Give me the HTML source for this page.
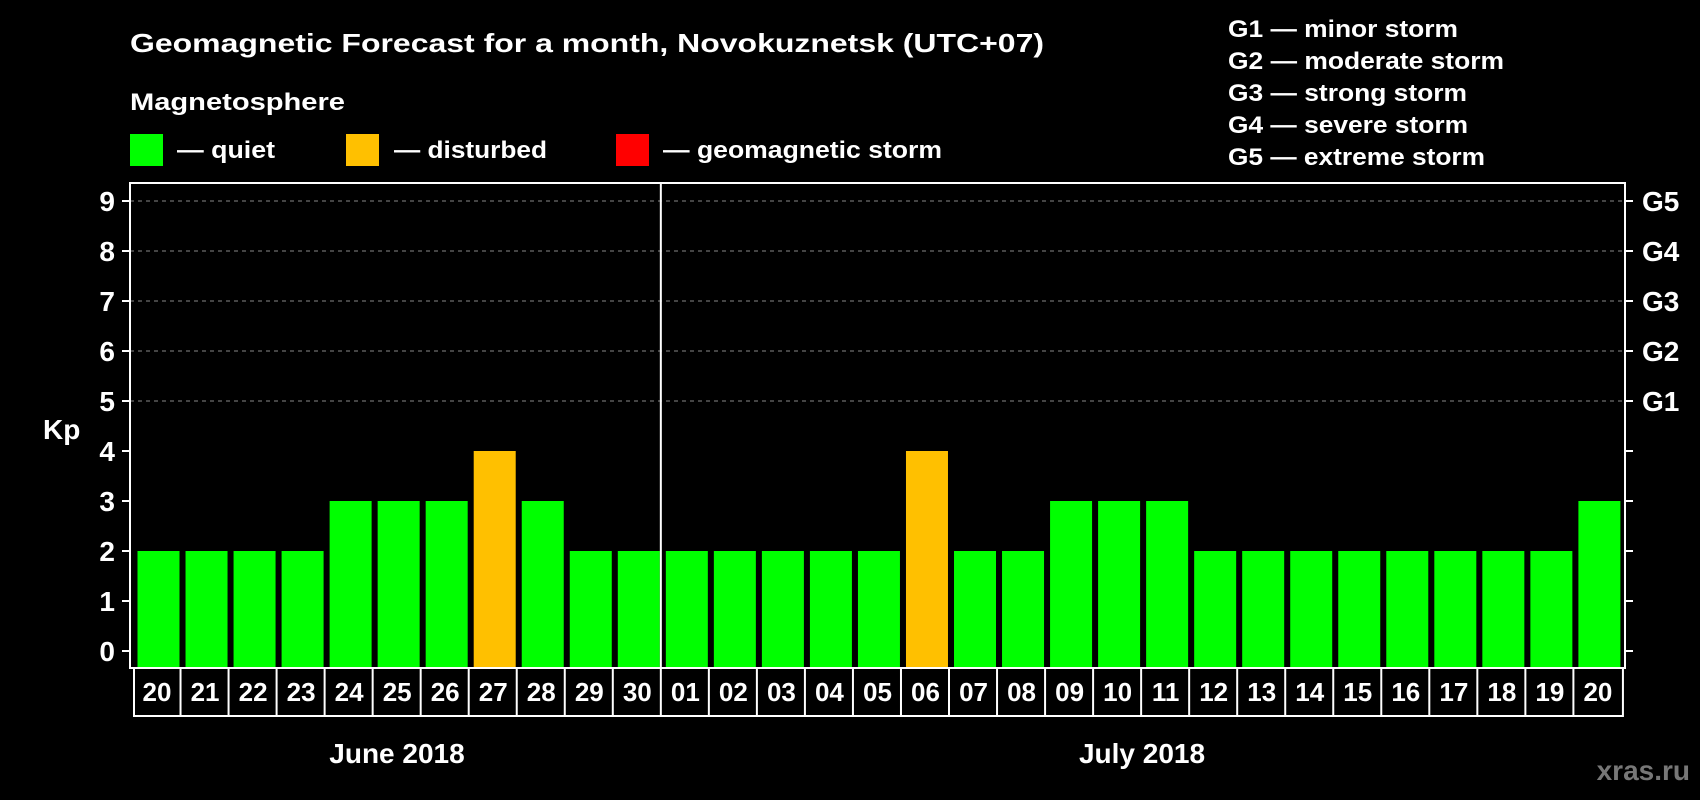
<!DOCTYPE html>
<html><head><meta charset="utf-8"><style>
html,body{margin:0;padding:0;background:#000;}
svg{display:block;font-family:"Liberation Sans",Arial,sans-serif;font-weight:bold;}
</style></head><body>
<svg id="chart" width="1700" height="800" viewBox="0 0 1700 800" xmlns="http://www.w3.org/2000/svg">
<rect x="0" y="0" width="1700" height="800" fill="#000"/>
<text x="130" y="52" fill="#fff" font-size="26" textLength="914" lengthAdjust="spacingAndGlyphs">Geomagnetic Forecast for a month, Novokuznetsk (UTC+07)</text>
<text x="130" y="110" fill="#fff" font-size="24" textLength="215" lengthAdjust="spacingAndGlyphs">Magnetosphere</text>
<g>
<rect x="130" y="134" width="33" height="32" fill="#00ff00"/>
<text x="177" y="158" fill="#fff" font-size="24" textLength="98" lengthAdjust="spacingAndGlyphs">— quiet</text></g>
<g>
<rect x="346" y="134" width="33" height="32" fill="#ffc000"/>
<text x="394" y="158" fill="#fff" font-size="24" textLength="153" lengthAdjust="spacingAndGlyphs">— disturbed</text></g>
<g>
<rect x="616" y="134" width="33" height="32" fill="#ff0000"/>
<text x="663" y="158" fill="#fff" font-size="24" textLength="279" lengthAdjust="spacingAndGlyphs">— geomagnetic storm</text></g>
<g fill="#fff" font-size="24">
<text x="1228" y="37" textLength="230" lengthAdjust="spacingAndGlyphs">G1 — minor storm</text>
<text x="1228" y="69" textLength="276" lengthAdjust="spacingAndGlyphs">G2 — moderate storm</text>
<text x="1228" y="101" textLength="239" lengthAdjust="spacingAndGlyphs">G3 — strong storm</text>
<text x="1228" y="133" textLength="240" lengthAdjust="spacingAndGlyphs">G4 — severe storm</text>
<text x="1228" y="165" textLength="257" lengthAdjust="spacingAndGlyphs">G5 — extreme storm</text>
</g>
<text x="43" y="439" fill="#fff" font-size="28">Kp</text>
<g id="grid"></g>
<g id="bars"></g>
<g id="axes"></g>
<text x="397" y="763" fill="#fff" font-size="28" text-anchor="middle">June 2018</text>
<text x="1142" y="763" fill="#fff" font-size="28" text-anchor="middle">July 2018</text>
<text x="1690" y="780" fill="#777" font-size="28" text-anchor="end">xras.ru</text>
</svg>
<script>
const days = ["20","21","22","23","24","25","26","27","28","29","30","01","02","03","04","05","06","07","08","09","10","11","12","13","14","15","16","17","18","19","20"];
const kpValues = [2,2,2,2,3,3,3,4,3,2,2,2,2,2,2,2,4,2,2,3,3,3,2,2,2,2,2,2,2,2,3];
const yTicks = [0,1,2,3,4,5,6,7,8,9];
const gridLevels = [5,6,7,8,9];
const stormLabels = ["G1","G2","G3","G4","G5"];
const stormLevels = [5,6,7,8,9];

const NS="http://www.w3.org/2000/svg";
const plotL=130, plotR=1625, plotT=183, plotB=668;
const cellL=134, cellW=48.03;
function y(v){return 651-50*v;}
function x(i){return cellL+i*cellW;}
function mk(tag,attrs,parent){const e=document.createElementNS(NS,tag);for(const k in attrs)e.setAttribute(k,attrs[k]);parent.appendChild(e);return e;}
const grid=document.getElementById('grid'), bars=document.getElementById('bars'), axes=document.getElementById('axes');
gridLevels.forEach(v=>{
  const l=mk('line',{x1:plotL,x2:plotR,y1:y(v),y2:y(v),stroke:'#888','stroke-width':1,'stroke-dasharray':'4,4'},grid);
  
  
});
kpValues.forEach((v,i)=>{
  const r=mk('rect',{x:x(i)+3.5,y:y(v),width:42,height:plotB-1-y(v),fill:v>=5?'#ff0000':(v>=4?'#ffc000':'#00ff00')},bars);
  
  
});
const frame=mk('rect',{x:plotL,y:plotT,width:plotR-plotL,height:plotB-plotT,fill:'none',stroke:'#fff','stroke-width':2},axes);


const sep=mk('line',{x1:x(11)-1.5,x2:x(11)-1.5,y1:plotT,y2:plotB,stroke:'#fff','stroke-width':2},axes);


yTicks.forEach(v=>{
  mk('line',{x1:122,x2:plotL,y1:y(v),y2:y(v),stroke:'#fff','stroke-width':2},axes);
  mk('line',{x1:plotR,x2:1633,y1:y(v),y2:y(v),stroke:'#fff','stroke-width':2},axes);
  const t=mk('text',{x:115,y:y(v)+10,fill:'#fff','font-size':28,'text-anchor':'end'},axes);
  t.textContent=v;
  
  
});
stormLevels.forEach((v,i)=>{
  const t=mk('text',{x:1642,y:y(v)+10,fill:'#fff','font-size':28},axes);
  t.textContent=stormLabels[i];
  
  
});
const row=mk('rect',{x:cellL,y:plotB,width:cellW*days.length,height:48,fill:'#000',stroke:'#fff','stroke-width':2},axes);


days.forEach((d,i)=>{
  if(i>0) mk('line',{x1:x(i)-1.5,x2:x(i)-1.5,y1:plotB,y2:plotB+48,stroke:'#fff','stroke-width':2},axes);
  const t=mk('text',{x:x(i)+cellW/2-1,y:701,fill:'#fff','font-size':26,'text-anchor':'middle'},axes);
  t.textContent=d;
  
  
});
</script>
</body></html>
